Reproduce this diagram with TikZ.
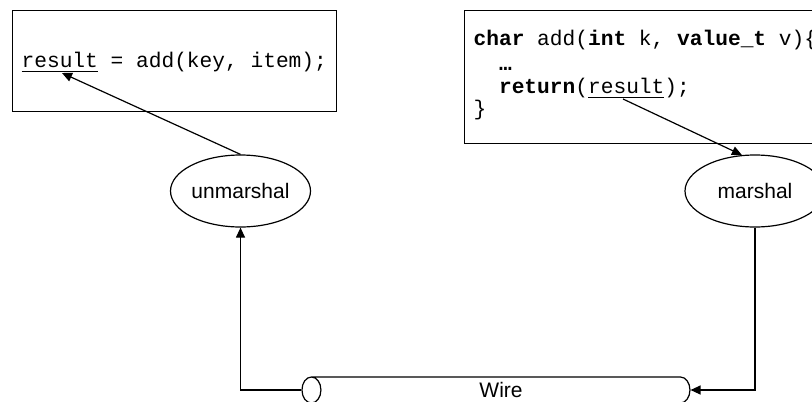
\documentclass[tikz,border=0pt]{standalone}
\usepackage{fontspec}
\setmainfont{Liberation Sans}
\setmonofont{Liberation Mono}
\usetikzlibrary{arrows.meta,shapes.geometric}

\begin{document}
\begin{tikzpicture}[x=0.5pt, y=-0.5pt, line width=0.6pt,
    codebox/.style={draw, rectangle, anchor=north west, inner sep=0pt},
    code/.style={anchor=base west, inner sep=0pt, font=\ttfamily\fontsize{10.6}{12}\selectfont},
    stub/.style={draw, ellipse, minimum width=70pt, minimum height=36pt, inner sep=0pt, font=\fontsize{10.5}{12}\selectfont},
    flow/.style={-{Triangle[length=5pt,width=4.5pt]}}]
    % Frame
    \useasboundingbox (0,0) rectangle (812,401);
    \clip (0,0) rectangle (812,401);

    % Caller side
    \node[codebox, minimum width=162pt, minimum height=50.5pt] (caller) at (12,10) {};
    \node[code] (call) at (21,68) {\underline{result} = add(key, item);};
    \coordinate (ret) at (62,73);

    % Callee side
    \node[codebox, minimum width=183pt, minimum height=66.5pt] (callee) at (464,10) {};
    \node[code] (line1) at (473,46) {\textbf{char} add(\textbf{int} k, \textbf{value\_t} v)\{};
    \node[code] (line2) at (473,70) {\ \ \textbf{…}};
    \node[code] (line3) at (473,94) {\ \ \textbf{return}(\underline{result});};
    \node[code] (line4) at (473,115) {\}};
    \coordinate (res) at (623,99);

    % Stubs and wire
    \node[stub] (unmarshal) at (240.5,191) {unmarshal};
    \node[stub] (marshal) at (755,191) {marshal};
    \node[draw, cylinder, shape border rotate=180, aspect=1.23, minimum width=13pt,
          minimum height=194pt, inner sep=0pt, font=\fontsize{10.5}{12}\selectfont] (wire) at (501,390) {Wire};

    % Data flow
    \draw[flow] (unmarshal.north) -- (ret);
    \draw[flow] (res) -- (marshal.110);
    \draw[flow] (marshal.south) |- (wire.east);
    \draw[flow] (wire.west) -| (unmarshal.south);
\end{tikzpicture}
\end{document}
